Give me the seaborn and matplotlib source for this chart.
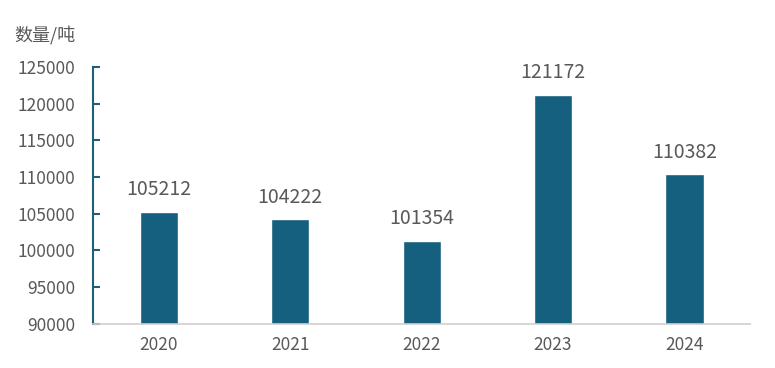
import matplotlib

matplotlib.use("Agg")
import matplotlib.pyplot as plt  # noqa: E402
import pandas as pd  # noqa: E402
import seaborn as sns  # noqa: E402

years = ["2020", "2021", "2022", "2023", "2024"]
amounts = [105212, 104222, 101354, 121172, 110382]
y_ticks = list(range(90000, 125001, 5000))

BAR = "#155f7f"
AXIS = "#1f5f78"
TEXT = "#595959"

sns.set_theme(style="white")
plt.rcParams["font.family"] = ["Noto Sans CJK SC", "DejaVu Sans"]
plt.rcParams["font.weight"] = "light"

df = pd.DataFrame({"year": years, "amount": amounts})

fig = plt.figure(figsize=(7.75, 3.68), dpi=100)
ax = fig.add_axes([0.12, 0.12, 0.848, 0.698])
sns.barplot(data=df, x="year", y="amount", color=BAR, width=0.29, saturation=1, ax=ax)

ax.set_ylim(90000, 125000)
ax.set_xlim(-0.5, 4.5)
ax.set_yticks(y_ticks)
ax.set_yticklabels([str(t) for t in y_ticks], fontsize=12.5, color=TEXT)
ax.tick_params(axis="y", direction="in", length=5, width=1.5, color=AXIS, pad=13, left=True)
ax.tick_params(axis="x", length=0, pad=9, labelsize=12.5, labelcolor=TEXT)
ax.set_xlabel("")
ax.set_ylabel("")

for side in ["top", "right"]:
    ax.spines[side].set_visible(False)
ax.spines["left"].set_color(AXIS)
ax.spines["left"].set_linewidth(1.5)
ax.spines["bottom"].set_color("#d0d0d0")
ax.spines["bottom"].set_linewidth(1.2)

for i, v in enumerate(amounts):
    ax.text(i, v + 1600, str(v), ha="center", va="bottom", fontsize=14, color=TEXT)

fig.text(0.019, 0.905, "数量/吨", fontsize=13, color=TEXT, va="center")

fig.savefig("out.png", dpi=100)
